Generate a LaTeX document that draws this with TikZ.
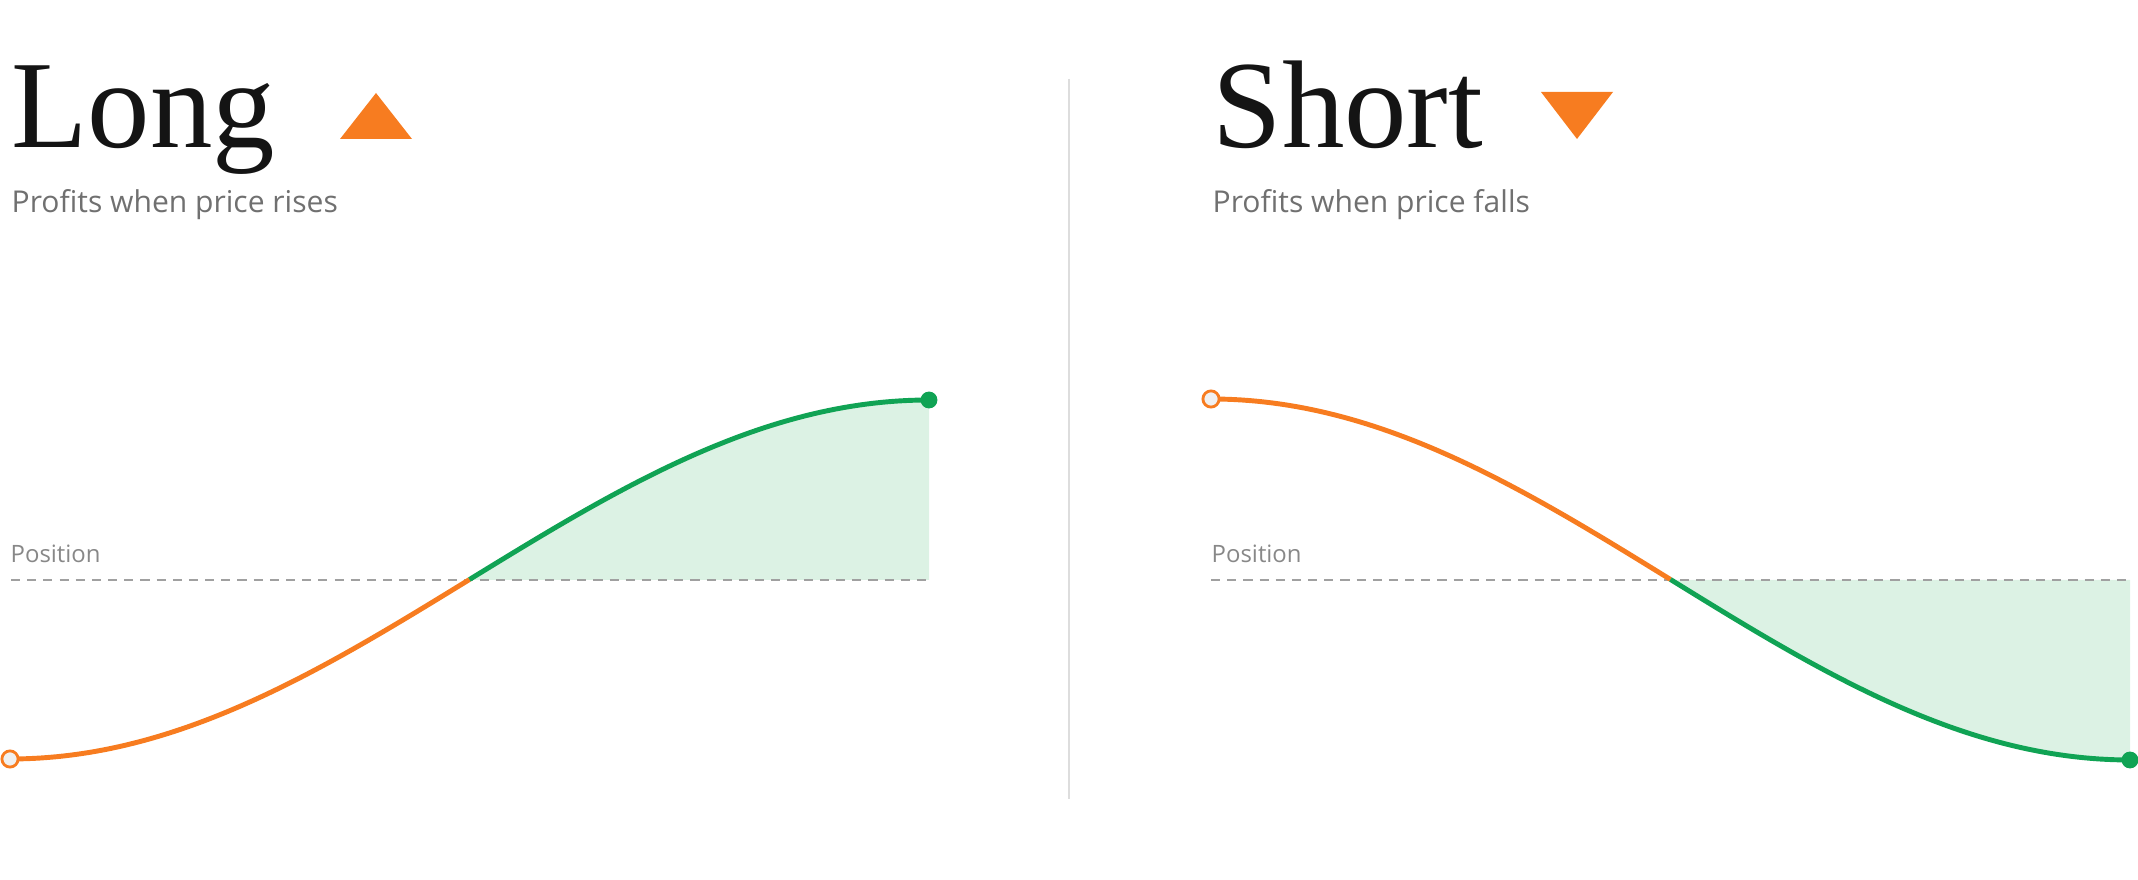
\documentclass[tikz,border=0pt]{standalone}
\usepackage{fontspec}
\setmainfont{Liberation Serif}
\setsansfont{Open Sans}
\usepackage{tikz}
\usetikzlibrary{calc}

\definecolor{upor}{RGB}{247,124,32}
\definecolor{gaingreen}{RGB}{16,163,84}
\definecolor{gainfill}{RGB}{220,242,228}
\definecolor{subgray}{RGB}{112,112,112}
\definecolor{posgray}{RGB}{136,136,136}
\definecolor{dashgray}{RGB}{160,160,160}
\definecolor{divgray}{RGB}{221,221,221}

\tikzset{
  declare function={longy(\t)=759-179.5*(1-cos((\t-10)/919*180));
                    shorty(\t)=399+180.5*(1-cos((\t-1211)/919*180));},
  title/.style={anchor=base west,inner sep=0pt,font=\fontsize{35.5pt}{42pt}\selectfont,text=black!92},
  subtitle/.style={anchor=base west,inner sep=0pt,font=\sffamily\fontsize{8.55pt}{10pt}\selectfont,text=subgray},
  poslabel/.style={anchor=base west,inner sep=0pt,font=\sffamily\fontsize{6.8pt}{8pt}\selectfont,text=posgray},
  posline/.style={dashgray,line width=0.57pt,dash pattern=on 2.6pt off 2pt},
  lossline/.style={upor,line width=1.4pt},
  gainline/.style={gaingreen,line width=1.4pt},
  startdot/.style={circle,draw=upor,fill=black!6,line width=0.8pt,minimum size=4.6pt,inner sep=0pt},
  enddot/.style={circle,fill=gaingreen,minimum size=4.8pt,inner sep=0pt}
}

\begin{document}
\begin{tikzpicture}[x=0.01cm,y=-0.01cm]
\useasboundingbox (0,0) rectangle (2138,880);

\draw[divgray,line width=0.57pt] (1069,79) -- (1069,799);

\node[title] (longtitle) at (11,148) {Long};
\fill[upor] (340,139) -- (412,139) -- (376,93) -- cycle;
\node[subtitle] (longsub) at (11,213) {Profits when price rises};

\node[title] (shorttitle) at (1212,148) {Short};
\fill[upor] (1541,92) -- (1613,92) -- (1577,139) -- cycle;
\node[subtitle] (shortsub) at (1212,213) {Profits when price falls};

\fill[gainfill] (469.5,580) -- plot[domain=469.5:929,samples=60] (\x,{longy(\x)}) -- (929,580) -- cycle;
\coordinate (lposa) at (11,580);
\coordinate (lposb) at (929,580);
\draw[posline] (lposa) -- (lposb);
\node[poslabel] (lpos) at (10,563) {Position};
\draw[lossline] plot[domain=10:469.5,samples=60] (\x,{longy(\x)});
\draw[gainline] plot[domain=469.5:929,samples=60] (\x,{longy(\x)});
\node[startdot] (lstart) at (10,759) {};
\node[enddot] (lend) at (929,400) {};

\fill[gainfill] (1670.5,580) -- plot[domain=1670.5:2130,samples=60] (\x,{shorty(\x)}) -- (2130,580) -- cycle;
\coordinate (rposa) at (1211,580);
\coordinate (rposb) at (2130,580);
\draw[posline] (rposa) -- (rposb);
\node[poslabel] (rpos) at (1211,563) {Position};
\draw[lossline] plot[domain=1211:1670.5,samples=60] (\x,{shorty(\x)});
\draw[gainline] plot[domain=1670.5:2130,samples=60] (\x,{shorty(\x)});
\node[startdot] (rstart) at (1211,399) {};
\node[enddot] (rend) at (2130,760) {};
\end{tikzpicture}
\end{document}
